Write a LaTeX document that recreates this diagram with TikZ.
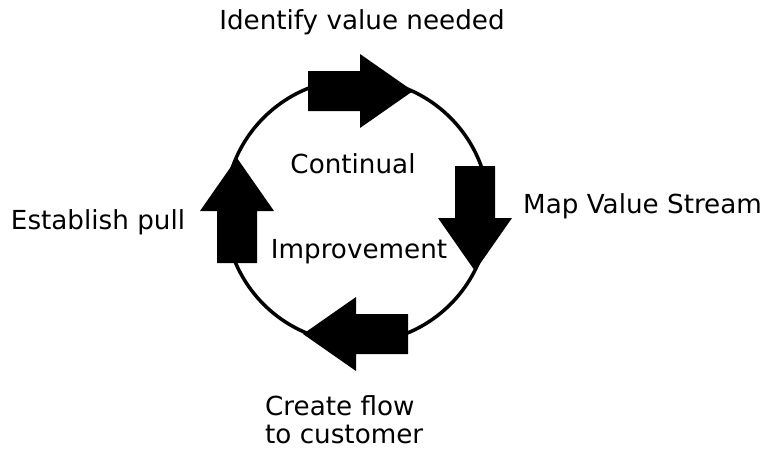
\documentclass[tikz,border=0pt]{standalone}
\usepackage{fontspec}
\setmainfont{DejaVu Sans}
\tikzset{
  lbl/.style={inner sep=0pt, font=\fontsize{26.2}{28}\selectfont},
  blockarrow/.pic={\fill(-52,-20)--(0,-20)--(0,-37)--(53,0)--(0,37)--(0,20)--(-52,20)--cycle;}
}
\begin{document}
\begin{tikzpicture}[x=1pt, y=-1pt]
\useasboundingbox (0,0) rectangle (774,451);
\draw[line width=3.5pt](357,211) circle[radius=132];
\pic at (360,91) {blockarrow};
\pic[rotate=-90] at (475,218) {blockarrow};
\pic[rotate=180] at (356,334) {blockarrow};
\pic[rotate=90] at (237,211) {blockarrow};
\node[lbl, anchor=base] (ident) at (362,29) {Identify value needed};
\node[lbl, anchor=base west] (mapvs) at (523,213) {Map Value Stream};
\node[lbl, anchor=base] (pull) at (98,229) {Establish pull};
\node[lbl, anchor=base west, align=left] (flow) at (265,443) {Create flow\\to customer};
\node[lbl, anchor=base] (cont) at (353,173) {Continual};
\node[lbl, anchor=base] (impr) at (359,258) {Improvement};
\end{tikzpicture}
\end{document}
